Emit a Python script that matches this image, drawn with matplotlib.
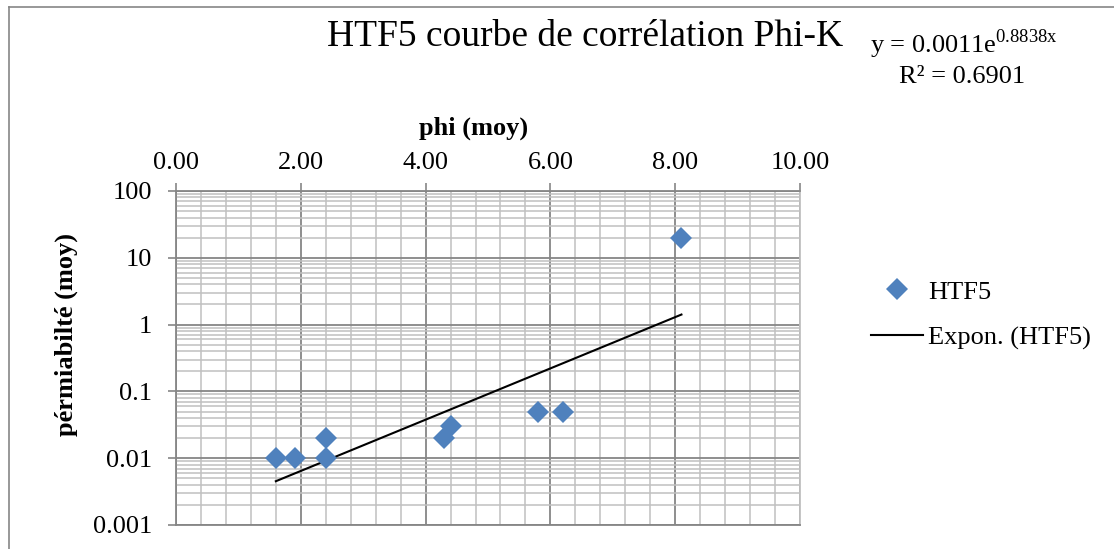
import numpy as np
import matplotlib
matplotlib.use("Agg")
import matplotlib.pyplot as plt
from matplotlib.lines import Line2D
from matplotlib.ticker import MultipleLocator, LogLocator, FixedLocator, NullFormatter

plt.rcParams['font.family'] = ['Liberation Serif', 'DejaVu Serif']
plt.rcParams['mathtext.fontset'] = 'custom'
plt.rcParams['mathtext.rm'] = 'Liberation Serif'

# Porosity (phi) and permeability averages for well HTF5
phi = [1.6, 1.9, 2.4, 2.4, 4.3, 4.4, 5.8, 6.2, 8.1]
perm = [0.01, 0.01, 0.02, 0.01, 0.02, 0.03, 0.05, 0.05, 20]

# Exponential trend line coefficients: y = a * exp(b * x)
fit_a = 0.0011
fit_b = 0.8838
fit_r2 = 0.6901

x_ticks = [0, 2, 4, 6, 8, 10]
y_ticks = [0.001, 0.01, 0.1, 1, 10, 100]
y_tick_labels = ['0.001', '0.01', '0.1', '1', '10', '100']

W, H = 1114, 549
fig = plt.figure(figsize=(W / 100, H / 100), dpi=100)
ax = fig.add_axes([176 / W, 1 - 525 / H, (800 - 176) / W, (525 - 191) / H])

major_c = '#868686'
minor_c = '#c0c0c0'

ax.set_yscale('log')
ax.set_xlim(0, 10)
ax.set_ylim(0.001, 100)

ax.xaxis.set_major_locator(FixedLocator(x_ticks))
ax.xaxis.set_minor_locator(MultipleLocator(0.4))
ax.set_xticklabels([f'{v:.2f}' for v in x_ticks])
ax.yaxis.set_major_locator(FixedLocator(y_ticks))
ax.set_yticklabels(y_tick_labels)
ax.yaxis.set_minor_locator(LogLocator(base=10, subs=np.arange(2, 10), numticks=20))
ax.yaxis.set_minor_formatter(NullFormatter())

ax.grid(True, which='minor', color=minor_c, lw=1.1, zorder=0)
ax.grid(True, which='major', color=major_c, lw=1.3, zorder=0)
ax.set_axisbelow(True)

ax.xaxis.tick_top()
ax.tick_params(axis='both', which='major', labelsize=19, color=major_c, length=6, width=1.2, direction='out')
ax.tick_params(axis='both', which='minor', length=0)
ax.tick_params(axis='x', which='major', pad=6)
ax.tick_params(axis='y', which='major', pad=11)

for side, sp in ax.spines.items():
    sp.set_color(major_c)
    sp.set_linewidth(1.3)
ax.spines['right'].set_color(minor_c)

xs = np.linspace(min(phi), max(phi), 100)
trend, = ax.plot(xs, fit_a * np.exp(fit_b * xs), color='black', lw=1.5, zorder=3)
pts, = ax.plot(phi, perm, linestyle='none', marker='D', ms=11, mew=0,
               color='#4F81BD', zorder=4)

# Axis titles
fig.text(474 / W, 1 - 128 / H, 'phi (moy)', fontsize=19, fontweight='bold',
         ha='center', va='center')
fig.text(66 / W, 1 - 335 / H, 'pérmiabilté (moy)', fontsize=19, fontweight='bold',
         ha='center', va='center', rotation=90)

fig.text(585 / W, 1 - 46 / H, 'HTF5 courbe de corrélation Phi-K', fontsize=27,
         ha='center', va='baseline')
fig.text(964 / W, 1 - 53 / H, rf'y = {fit_a}e$^{{\mathrm{{{fit_b}x}}}}$', fontsize=19,
         ha='center', va='baseline')
fig.text(962 / W, 1 - 83 / H, f'R² = {fit_r2}', fontsize=19, ha='center', va='baseline')

fig.legend([pts, trend], ['HTF5', 'Expon. (HTF5)'], loc='center left',
           bbox_to_anchor=(858 / W, 1 - 315 / H), frameon=False, fontsize=19,
           handlelength=1.95, handletextpad=0.2, labelspacing=0.85, borderpad=0)

# Outer chart border (top and left edges visible)
fig.add_artist(Line2D([9 / W, 9 / W], [0, 1 - 7 / H], color=major_c, lw=1.2))
fig.add_artist(Line2D([9 / W, 1], [1 - 7 / H, 1 - 7 / H], color=major_c, lw=1.2))

fig.savefig('out.png', dpi=100)
